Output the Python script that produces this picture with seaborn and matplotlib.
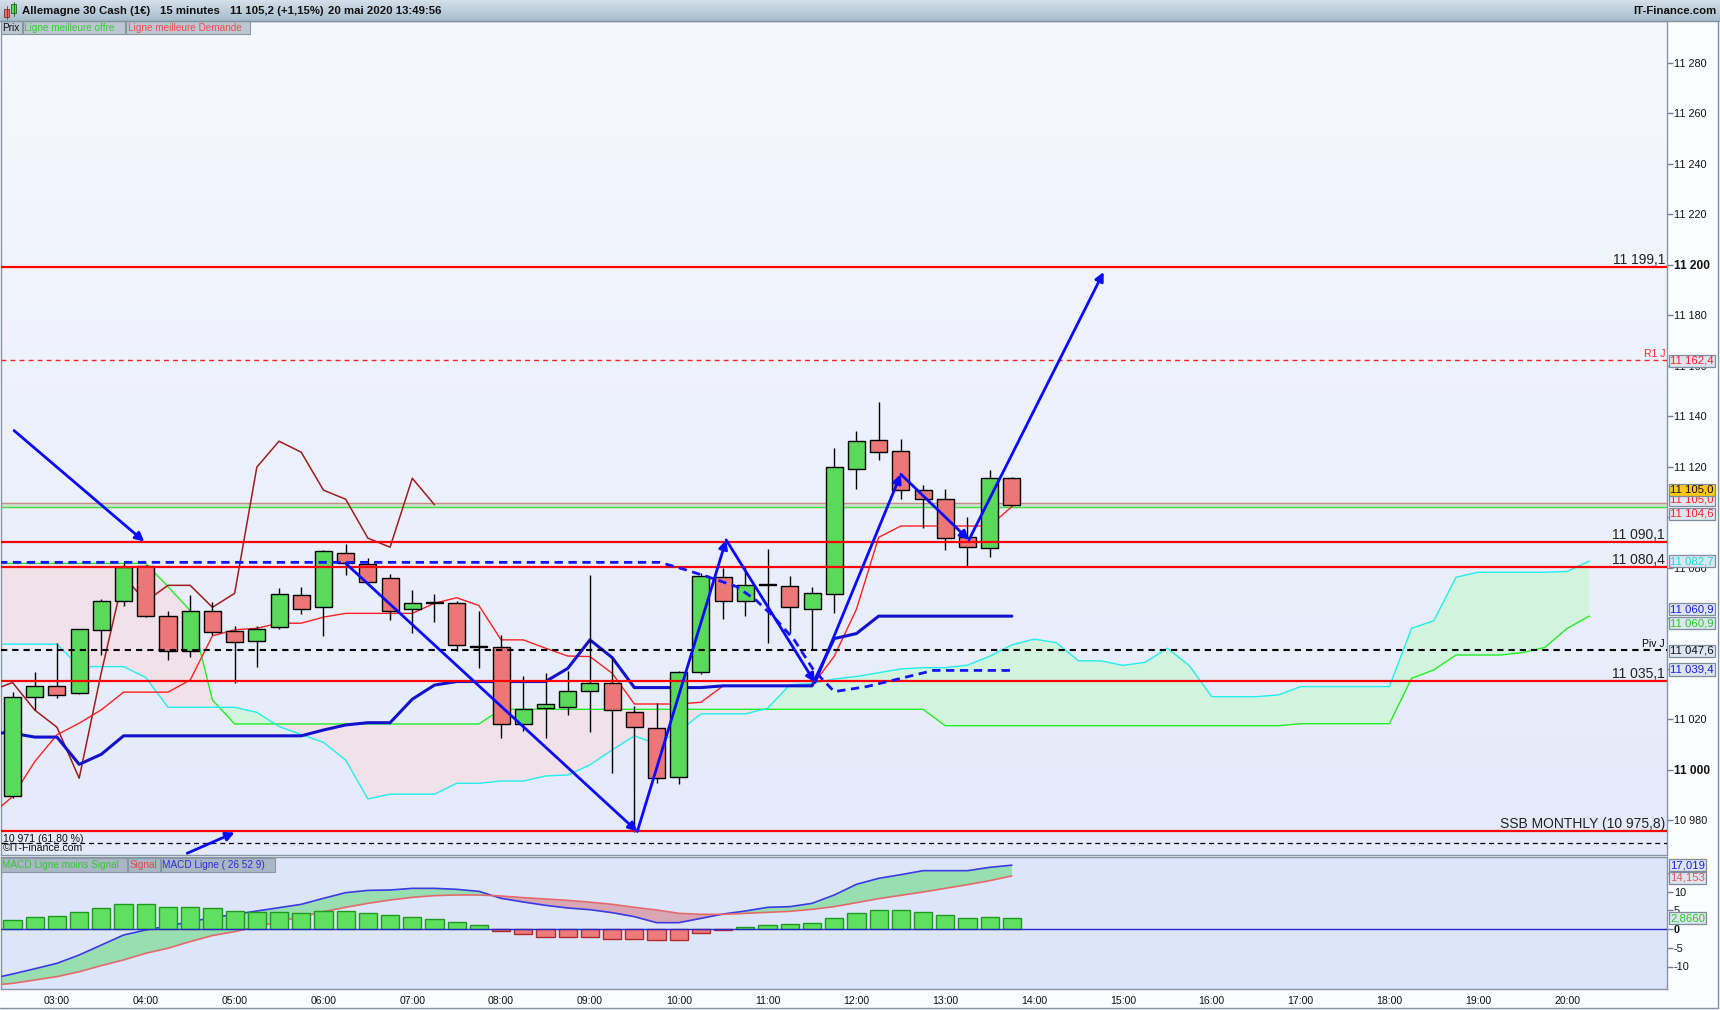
import numpy as np
import pandas as pd
import matplotlib.pyplot as plt
import matplotlib.dates as mdates
import matplotlib.transforms as mtransforms
from matplotlib.colors import LinearSegmentedColormap
from matplotlib.patches import Rectangle
import seaborn as sns

# ---------------- données (DAX 15 min, 20 mai 2020) ----------------
candle_times = pd.date_range("2020-05-20 02:30", "2020-05-20 13:45", freq="15min")
line_times = pd.date_range("2020-05-20 02:15", "2020-05-20 13:45", freq="15min")
cloud_times = pd.date_range("2020-05-20 02:15", "2020-05-20 20:15", freq="15min")
chikou_times = pd.date_range("2020-05-20 02:15", "2020-05-20 07:15", freq="15min")
hour_ticks = pd.date_range("2020-05-20 03:00", "2020-05-20 20:00", freq="1h")

opens = [10989.8, 11028.8, 11033.3, 11030.4, 11055.4, 11067.0, 11080.8, 11060.9, 11047.1, 11062.8,
         11054.9, 11050.9, 11056.4, 11069.2, 11064.4, 11086.1, 11081.4, 11076.0, 11063.6, 11066.3,
         11066.0, 11048.8, 11048.6, 11018.2, 11024.4, 11024.8, 11031.3, 11034.6, 11022.8, 11016.5,
         10997.1, 11038.7, 11076.3, 11066.8, 11073.1, 11072.7, 11063.6, 11069.6, 11119.1, 11130.6,
         11126.2, 11110.8, 11107.2, 11092.2, 11087.8, 11115.5]
highs = [11031.0, 11038.7, 11050.2, 11056.0, 11067.6, 11081.8, 11081.0, 11063.0, 11069.3, 11066.6,
         11057.1, 11056.8, 11071.9, 11072.3, 11087.1, 11089.5, 11083.8, 11077.6, 11071.3, 11069.6,
         11066.9, 11063.0, 11053.5, 11037.2, 11038.5, 11039.0, 11077.2, 11044.2, 11025.3, 11026.4,
         11039.2, 11078.1, 11080.0, 11080.8, 11087.5, 11076.8, 11072.4, 11127.4, 11134.3, 11145.7,
         11131.1, 11112.9, 11111.4, 11100.3, 11118.8, 11115.9]
lows = [10989.0, 11023.8, 11028.6, 11030.0, 11045.5, 11065.1, 11060.7, 11043.6, 11044.9, 11053.3,
        11034.3, 11040.9, 11056.0, 11061.6, 11053.2, 11077.0, 11074.3, 11059.4, 11054.1, 11058.7,
        11046.9, 11040.5, 11012.5, 11015.4, 11012.8, 11021.8, 11015.2, 10998.9, 10975.6, 10994.7,
        10994.3, 11038.0, 11059.9, 11061.0, 11050.4, 11054.4, 11048.0, 11062.0, 11111.2, 11122.8,
        11107.2, 11096.0, 11086.9, 11080.5, 11084.2, 11104.7]
closes = [11028.8, 11033.3, 11029.5, 11055.7, 11066.8, 11080.5, 11061.1, 11047.1, 11062.8, 11054.5,
          11050.5, 11056.0, 11069.6, 11063.6, 11086.5, 11081.8, 11074.3, 11063.1, 11066.0, 11066.3,
          11049.5, 11048.8, 11018.2, 11024.0, 11026.0, 11031.3, 11034.6, 11023.7, 11016.9, 10996.7,
          11038.7, 11076.6, 11066.8, 11073.1, 11073.1, 11064.4, 11069.9, 11119.9, 11130.2, 11125.8,
          11110.8, 11107.2, 11091.8, 11088.2, 11115.5, 11105.0]

tenkan = [10982.0, 10989.4, 11003.3, 11013.9, 11018.5, 11023.8, 11030.8, 11030.8, 11030.8, 11035.6,
          11053.1, 11055.5, 11056.1, 11058.1, 11058.1, 11060.5, 11062.0, 11062.0, 11062.0, 11062.0,
          11066.0, 11068.2, 11065.1, 11051.5, 11051.5, 11048.2, 11045.1, 11044.9, 11038.3, 11026.1,
          11026.1, 11026.1, 11026.8, 11033.3, 11033.3, 11033.3, 11033.3, 11033.3, 11045.0, 11063.6,
          11092.1, 11096.6, 11096.6, 11096.6, 11096.6, 11096.6, 11104.3]
kijun = [11014.8, 11014.5, 11013.0, 11013.0, 11002.2, 11006.2, 11013.5, 11013.5, 11013.5, 11013.5,
         11013.5, 11013.5, 11013.5, 11013.5, 11013.5, 11015.8, 11017.8, 11018.7, 11018.7, 11028.0,
         11033.6, 11035.0, 11035.0, 11035.0, 11035.0, 11035.0, 11040.2, 11051.5, 11044.5, 11032.6,
         11032.6, 11032.6, 11032.6, 11033.3, 11033.3, 11033.3, 11033.3, 11033.3, 11052.0, 11054.0,
         11060.9, 11060.9, 11060.9, 11060.9, 11060.9, 11060.9, 11060.9]
ssa = [11081.8, 11081.8, 11081.8, 11081.8, 11081.8, 11081.8, 11081.8, 11081.8, 11072.6, 11063.1,
       11027.7, 11018.2, 11018.2, 11018.2, 11018.2, 11018.2, 11018.2, 11018.2, 11018.2, 11018.2,
       11018.2, 11018.2, 11018.2, 11024.0, 11024.0, 11024.0, 11024.0, 11024.0, 11024.0, 11024.0,
       11024.0, 11024.0, 11024.0, 11024.0, 11024.0, 11024.0, 11024.0, 11024.0, 11024.0, 11024.0,
       11024.0, 11024.0, 11024.0, 11017.5, 11017.5, 11017.5, 11017.5, 11017.5, 11017.5, 11017.5,
       11017.5, 11017.5, 11017.5, 11017.5, 11017.5, 11017.5, 11017.5, 11017.5, 11017.5, 11018.3,
       11018.3, 11018.3, 11018.3, 11018.3, 11036.3, 11039.6, 11045.5, 11045.5, 11045.5, 11046.5,
       11048.5, 11056.0, 11060.9]
ssb = [11049.8, 11049.8, 11049.8, 11049.8, 11040.9, 11040.9, 11040.9, 11036.6, 11024.8, 11024.8,
       11024.8, 11024.8, 11022.8, 11017.2, 11014.0, 11010.9, 11003.9, 10988.5, 10990.4, 10990.4,
       10990.4, 10994.7, 10994.7, 10995.6, 10995.6, 10997.6, 10998.0, 11002.0, 11007.9, 11013.5,
       11010.3, 11015.2, 11022.2, 11022.2, 11022.2, 11024.4, 11033.7, 11034.3, 11036.0, 11037.0,
       11038.5, 11040.0, 11040.5, 11040.5, 11041.5, 11045.0, 11049.5, 11051.8, 11050.4, 11043.2,
       11043.2, 11041.4, 11042.6, 11048.2, 11041.2, 11029.0, 11029.0, 11029.0, 11029.7, 11033.0,
       11033.0, 11033.0, 11033.0, 11033.0, 11056.1, 11059.1, 11076.3, 11078.3, 11078.3, 11078.3,
       11078.3, 11078.6, 11082.7]
chikou = [11031.3, 11034.6, 11023.7, 11016.9, 10996.7, 11038.7, 11076.6, 11066.8, 11073.1, 11073.1,
          11064.4, 11069.9, 11119.9, 11130.2, 11125.8, 11110.8, 11107.2, 11091.8, 11088.2, 11115.5,
          11105.0]

macd_line = [-13.3, -12.0, -10.6, -9.15, -6.93, -4.27, -1.6, -0.27, 0.8, 1.96,
             3.02, 3.91, 4.8, 5.69, 6.58, 8.18, 9.69, 10.3, 10.4, 10.84,
             10.84, 10.58, 10.04, 8.18, 7.2, 6.31, 5.6, 5.15, 4.36, 3.29,
             1.69, 1.69, 2.84, 4.0, 4.8, 5.78, 5.96, 6.84, 9.07, 11.91,
             13.51, 14.49, 15.56, 15.56, 15.56, 16.44, 17.02]
signal_line = [-15.0, -14.5, -13.6, -12.7, -11.4, -9.76, -8.25, -6.47, -5.13, -3.36,
               -1.75, -0.71, 0.62, 1.96, 3.29, 4.62, 5.78, 6.84, 7.73, 8.44,
               8.89, 9.07, 9.07, 8.8, 8.36, 8.0, 7.64, 7.15, 6.58, 5.78,
               5.07, 4.18, 3.91, 3.91, 4.18, 4.44, 4.71, 5.24, 5.96, 7.02,
               8.09, 8.98, 9.87, 10.84, 11.82, 12.89, 14.15]
macd_hist = [2.4, 3.1, 3.47, 4.53, 5.51, 6.58, 6.58, 5.78, 5.78, 5.51,
             4.8, 4.53, 4.45, 4.18, 4.8, 4.9, 4.18, 3.64, 3.1, 2.58,
             1.78, 0.98, -0.62, -1.42, -2.04, -2.2, -2.2, -2.58, -2.76, -2.93,
             -2.93, -1.16, -0.36, 0.44, 0.98, 1.24, 1.51, 2.84, 4.18, 4.98,
             4.98, 4.44, 3.64, 2.84, 3.1, 2.87]

# niveaux horizontaux
levels = [11199.1, 11090.1, 11080.4, 11035.1, 10975.8]
level_labels = ["11 199,1", "11 090,1", "11 080,4", "11 035,1", "SSB MONTHLY (10 975,8)"]
r1_level, pivot_level, fibo_level = 11162.4, 11047.6, 10971.0
ask_level, bid_level = 11105.6, 11104.2

# tracés manuels (flèches bleues)
arrow_start_t = ["02:31", "06:15", "09:32", "10:32", "11:32", "12:30", "13:16", "04:28"]
arrow_start_p = [11134.4, 11081.8, 10975.6, 11091.1, 11034.6, 11117.1, 11091.1, 10967.0]
arrow_end_t = ["03:59", "09:32", "10:32", "11:32", "12:30", "13:16", "14:47", "05:00"]
arrow_end_p = [11090.4, 10975.6, 11091.1, 11034.6, 11117.1, 11091.1, 11197.2, 10975.2]
dash_t = ["02:15", "09:47", "10:01", "10:19", "10:39", "10:52", "11:04", "11:18", "11:31",
          "11:45", "12:07", "12:52", "13:46"]
dash_p = [11082.2, 11082.2, 11079.9, 11076.6, 11072.6, 11067.3, 11060.7, 11051.5, 11039.6,
          11031.0, 11033.0, 11039.4, 11039.4]


def t(hm):
    return mdates.date2num(pd.Timestamp("2020-05-20 " + hm))


def num(ts):
    return mdates.date2num(ts.to_pydatetime())


def fmt_price(v):
    return f"{int(v):,}".replace(",", " ")


# ---------------- figure ----------------
sns.set_theme(style="white")
plt.rcParams['font.family'] = ['Liberation Sans', 'DejaVu Sans']

W, H = 1720, 1010
fig = plt.figure(figsize=(W / 100, H / 100), dpi=100)
fig.patch.set_facecolor('#fbfcfe')


def rect(x0, y0, x1, y1):
    return [x0 / W, 1 - y1 / H, (x1 - x0) / W, (y1 - y0) / H]


main_rect = rect(1, 21, 1667, 855)
macd_rect = rect(1, 857, 1667, 989)

bg = fig.add_axes(main_rect, zorder=-2)
bg.imshow(np.linspace(0, 1, 256).reshape(-1, 1), aspect='auto', extent=[0, 1, 0, 1],
          cmap=LinearSegmentedColormap.from_list('bgm', ['#f6f8fe', '#e4eafa']))
bg.axis('off')

ax = fig.add_axes(main_rect)
ax2 = fig.add_axes(macd_rect)
ax.set_facecolor('none')
ax2.set_facecolor('#dce5fa')

xl = (t("02:22:12"), t("21:07:30"))

ct = num(candle_times)
lt = num(line_times)
kt = num(cloud_times)
cht = num(chikou_times)

# nuage
ssa_a, ssb_a = np.array(ssa), np.array(ssb)
ax.fill_between(kt, ssa_a, ssb_a, where=ssa_a >= ssb_a, interpolate=True, color='#f1e2ea', lw=0, zorder=1)
ax.fill_between(kt, ssa_a, ssb_a, where=ssb_a > ssa_a, interpolate=True, color='#d2f4df', lw=0, zorder=1)
sns.lineplot(x=kt, y=ssa, ax=ax, color='#22ee22', lw=1.0, zorder=2)
sns.lineplot(x=kt, y=ssb, ax=ax, color='#22eeee', lw=1.0, zorder=2)

# lignes ichimoku
sns.lineplot(x=cht, y=chikou, ax=ax, color='#a01c1c', lw=1.1, zorder=3)
sns.lineplot(x=lt, y=tenkan, ax=ax, color='#ff2020', lw=1.0, zorder=3)
sns.lineplot(x=lt, y=kijun, ax=ax, color='#1212cc', lw=2.2, zorder=3)

# offre / demande
ax.axhspan(bid_level, ask_level, color='#c6e8c8', zorder=2)
ax.axhline(ask_level, color='#c88a8a', lw=1, zorder=2)
ax.axhline(bid_level, color='#4fd64f', lw=1, zorder=2)

# bougies
up = np.array(closes) >= np.array(opens)
body_lo = np.minimum(opens, closes)
body_h = np.maximum(np.abs(np.array(closes) - np.array(opens)), 0.35)
w = 11.5 / 1440
ax.vlines(ct, lows, highs, color='black', lw=1, zorder=6)
ax.bar(ct, body_h, bottom=body_lo, width=w, color=np.where(up, '#5bd95b', '#ec7777'),
       edgecolor='black', lw=1, zorder=7)

# niveaux
trans = mtransforms.blended_transform_factory(ax.transAxes, ax.transData)
for val, lab in zip(levels, level_labels):
    ax.axhline(val, color='#ff0000', lw=1.6, zorder=8)
    ax.annotate(lab, xy=(1, val), xycoords=trans, xytext=(-2, 3), textcoords='offset pixels',
                ha='right', va='baseline', fontsize=10, color='#222222', zorder=9)
ax.axhline(r1_level, color='#ff2020', lw=1.0, ls=(0, (3.5, 3)), zorder=8)
ax.annotate("R1 J", xy=(1, r1_level), xycoords=trans, xytext=(-2, 3), textcoords='offset pixels',
            ha='right', va='baseline', fontsize=7.5, color='#ff2020')
ax.axhline(pivot_level, color='black', lw=1.5, ls=(0, (3, 2.4)), zorder=8)
ax.annotate("Piv J", xy=(1, pivot_level), xycoords=trans, xytext=(-2, 3), textcoords='offset pixels',
            ha='right', va='baseline', fontsize=7.5, color='black')
ax.axhline(fibo_level, color='black', lw=0.9, ls=(0, (4, 3)), zorder=8)

# tracés bleus
ax.plot([t(s) for s in dash_t], dash_p, color='#1414ff', lw=2, ls=(0, (3, 2)), zorder=9)
for st, sp, et, ep in zip(arrow_start_t, arrow_start_p, arrow_end_t, arrow_end_p):
    ax.annotate('', xy=(t(et), ep), xytext=(t(st), sp),
                arrowprops=dict(arrowstyle='-|>', color='#0a0aff', lw=2.0, mutation_scale=13,
                                shrinkA=0, shrinkB=0), zorder=10)

ax.set_xlim(*xl)
ax.set_ylim(10966.3, 11296.6)
ax.set_xticks([])
ax.set_xlabel('')
ax.set_ylabel('')
yt = list(range(10980, 11281, 20))
hidden_ticks = (11060, 11040)  # masqués par les étiquettes de valeur
ax.yaxis.tick_right()
ax.set_yticks(yt, ['' if v in hidden_ticks else fmt_price(v) for v in yt])
ax.tick_params(axis='y', right=True, left=False, length=4, width=1, color='#708090', pad=1,
               labelsize=7.8, labelcolor='#111111')
for lbl in ax.get_yticklabels():
    if lbl.get_text() in ('11 200', '11 000'):
        lbl.set_fontweight('bold')
        lbl.set_fontsize(8.6)

# ---------------- MACD ----------------
hist = np.array(macd_hist)
ax2.bar(ct, hist, width=12.3 / 1440, color=np.where(hist >= 0, '#5fe05f', '#ee7a7a'),
        edgecolor=np.where(hist >= 0, '#1f9a1f', '#b02c2c'), lw=1, zorder=4)
m_a, s_a = np.array(macd_line), np.array(signal_line)
ax2.fill_between(lt, m_a, s_a, where=m_a >= s_a, interpolate=True, color='#98deb0', lw=0, zorder=2)
ax2.fill_between(lt, m_a, s_a, where=m_a < s_a, interpolate=True, color='#d9a6b6', lw=0, zorder=2)
sns.lineplot(x=lt, y=macd_line, ax=ax2, color='#3a3ae6', lw=1.2, zorder=3)
sns.lineplot(x=lt, y=signal_line, ax=ax2, color='#e36a6a', lw=1.2, zorder=3)
ax2.axhline(0, color='#2828c8', lw=1, zorder=5)
ax2.set_xlim(*xl)
ax2.set_ylim(-16.0, 19.2)
ax2.set_xlabel('')
ax2.set_ylabel('')
ax2.set_xticks(num(hour_ticks), [h.strftime('%H:%M') for h in hour_ticks])
ax2.tick_params(axis='x', length=0, pad=5, labelsize=7.6, labelcolor='#111111')
ax2.yaxis.tick_right()
mt = [-10, -5, 0, 5, 10, 15]
ax2.set_yticks(mt, ['' if v == 15 else str(v) for v in mt])
ax2.tick_params(axis='y', right=True, left=False, length=4, width=1, color='#708090', pad=1,
                labelsize=7.8, labelcolor='#111111')
for lbl in ax2.get_yticklabels():
    if lbl.get_text() == '0':
        lbl.set_fontweight('bold')

for a in (ax, ax2):
    for sp in a.spines.values():
        sp.set_color('#8796a5')
        sp.set_linewidth(1)


# boîtes de valeurs sur l'axe de droite
def value_box(axis, val, text, color, dy=0, face='#dde5f0'):
    axis.annotate(text, xy=(1, val), xycoords=('axes fraction', 'data'), xytext=(3, dy),
                  textcoords='offset pixels', ha='left', va='center', fontsize=8.2, color=color,
                  zorder=20, annotation_clip=False,
                  bbox=dict(boxstyle='square,pad=0.1', fc=face, ec='#7d8d9c', lw=0.9))


value_box(ax, 11162.4, "11 162,4", '#ff2020', -1)
value_box(ax, 11105.0, "11 105,0", '#ff2020', 5)
value_box(ax, 11105.0, "11 105,0", '#111111', 15, face='#ffc61a')
value_box(ax, 11104.6, "11 104,6", '#ff2020', -8)
value_box(ax, 11082.7, "11 082,7", '#11dddd', 0)
value_box(ax, 11060.9, "11 060,9", '#1a1aee', 7)
value_box(ax, 11060.9, "11 060,9", '#22cc22', -7)
value_box(ax, 11047.6, "11 047,6", '#111111', -1)
value_box(ax, 11039.4, "11 039,4", '#1a1aee', 1)
value_box(ax2, 17.019, "17,019", '#1a1aee', 0)
value_box(ax2, 14.153, "14,153", '#e05a5a', -2)
value_box(ax2, 2.866, "2,8660", '#22cc22', 0)

# ---------------- entête, légendes, cadre (coordonnées pixels) ----------------
ov = fig.add_axes([0, 0, 1, 1], zorder=50)
ov.patch.set_alpha(0)
ov.imshow(np.linspace(0, 1, 64).reshape(-1, 1), aspect='auto', extent=[0, W, 21, 0],
          cmap=LinearSegmentedColormap.from_list('hdr', ['#d4e0ea', '#a7bccc']))
ov.plot([0, W], [21, 21], color='#8092a2', lw=1)
ov.add_patch(Rectangle((4, 9), 5, 8, fc='#e86a6a', ec='#803030', lw=0.6))
ov.plot([6.5, 6.5], [6, 19], color='#803030', lw=0.6)
ov.add_patch(Rectangle((11, 4), 5, 9, fc='#55dd55', ec='#206020', lw=0.6))
ov.plot([13.5, 13.5], [2, 16], color='#206020', lw=0.6)
for x0, s in zip([22, 160, 230, 328],
                 ["Allemagne 30 Cash (1€)", "15 minutes", "11 105,2 (+1,15%)", "20 mai 2020 13:49:56"]):
    ov.text(x0, 11, s, ha='left', va='center', fontsize=8.2, fontweight='bold', color='#111111')
ov.text(W - 4, 11, "IT-Finance.com", ha='right', va='center', fontsize=8.2, fontweight='bold',
        color='#111111')


def legend_box(x0, x1, y0, y1, text, color, face):
    ov.add_patch(Rectangle((x0, y0), x1 - x0, y1 - y0, fc=face, ec='#8797a6', lw=0.8))
    ov.text(x0 + 1.5, (y0 + y1) / 2 + 0.5, text, ha='left', va='center', fontsize=7.2, color=color)


legend_box(1, 22, 21, 34, "Prix", '#111111', '#bcc7d1')
legend_box(23, 125, 21, 34, "Ligne meilleure offre", '#3dc83d', '#bcc7d1')
legend_box(126, 250, 21, 34, "Ligne meilleure Demande", '#ee4f4f', '#bcc7d1')
legend_box(1, 127, 858, 872, "MACD Ligne moins Signal", '#33c833', '#a9b6c3')
legend_box(128, 160, 858, 872, "Signal", '#e04848', '#a9b6c3')
legend_box(161, 275, 858, 872, "MACD Ligne ( 26 52 9)", '#2d2dd9', '#a9b6c3')

ov.text(3, 842, "10 971 (61,80 %)", ha='left', va='baseline', fontsize=7.6, color='#111111')
ov.text(3, 851, "©IT-Finance.com", ha='left', va='baseline', fontsize=7.6, color='#111111')

ov.plot([1718, 1718], [21, 1008], color='#8092a2', lw=1)
ov.plot([0, 1718], [1008, 1008], color='#8092a2', lw=1)
ov.set_xlim(0, W)
ov.set_ylim(H, 0)
ov.axis('off')

fig.savefig('out.png', dpi=100, facecolor=fig.get_facecolor())
